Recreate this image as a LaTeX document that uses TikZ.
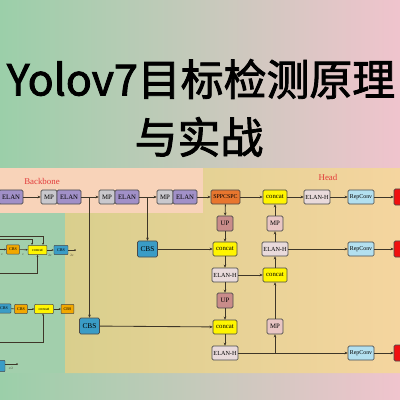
\documentclass[tikz,border=0pt]{standalone}
\usepackage{fontspec}
\setmainfont{Liberation Serif}
\newfontfamily\cjk[FakeBold=2]{Noto Sans CJK SC}
\usetikzlibrary{arrows.meta}
\definecolor{bgl}{HTML}{9BCFA9}
\definecolor{bgm}{HTML}{C9C9B8}
\definecolor{bgr}{HTML}{F0C4CD}
\definecolor{peach}{HTML}{F8D3B9}
\definecolor{headl}{HTML}{D9CF8D}
\definecolor{headr}{HTML}{F5D59F}
\definecolor{greenp}{HTML}{A2CFAC}
\definecolor{elanc}{HTML}{A190C8}
\definecolor{mpc}{HTML}{C9C8CD}
\definecolor{sppc}{HTML}{E8762E}
\definecolor{upc}{HTML}{C98C8A}
\definecolor{catc}{HTML}{FFF500}
\definecolor{elanhc}{HTML}{E9DADB}
\definecolor{mphc}{HTML}{E9C6C4}
\definecolor{repc}{HTML}{B3E0F0}
\definecolor{redc}{HTML}{F01010}
\definecolor{cbsc}{HTML}{3A9CC6}
\definecolor{cbsoc}{HTML}{F2A800}
\definecolor{boxline}{HTML}{4A4A4A}
\definecolor{linec}{HTML}{3E3628}
\definecolor{labred}{HTML}{E23A3A}
\begin{document}
\begin{tikzpicture}[x=0.025cm,y=-0.025cm,
  basebox/.style={draw=boxline, line width=0.5pt, rounded corners=0.9pt, inner sep=0pt,
    minimum height=0.35cm, font=\fontsize{4.8}{4.8}\selectfont},
  elanbox/.style={basebox, fill=elanc, minimum width=0.6cm},
  mpbox/.style={basebox, fill=mpc, minimum width=0.4cm},
  sppbox/.style={basebox, fill=sppc, minimum width=0.725cm, font=\fontsize{4.2}{4.2}\selectfont},
  upbox/.style={basebox, fill=upc, minimum width=0.4cm, minimum height=0.375cm},
  mphbox/.style={basebox, fill=mphc, minimum width=0.4cm, minimum height=0.375cm},
  catbox/.style={basebox, fill=catc, minimum width=0.6cm},
  elanhbox/.style={basebox, fill=elanhc, minimum width=0.65cm, font=\fontsize{4.4}{4.4}\selectfont},
  repbox/.style={basebox, fill=repc, minimum width=0.65cm, font=\fontsize{4.2}{4.2}\selectfont},
  redbox/.style={basebox, fill=redc, minimum width=0.3cm, minimum height=0.4cm},
  cbsbox/.style={basebox, fill=cbsc, minimum width=0.5cm, minimum height=0.4cm, font=\fontsize{5.2}{5.2}\selectfont},
  smallbox/.style={draw=boxline, line width=0.35pt, rounded corners=0.6pt, inner sep=0pt,
    minimum height=0.23cm, font=\fontsize{2.9}{2.9}\selectfont},
  cbsobox/.style={smallbox, fill=cbsoc, minimum width=0.32cm},
  cbssbox/.style={smallbox, fill=cbsc, minimum width=0.35cm},
  catsbox/.style={smallbox, fill=catc, minimum width=0.47cm},
  arr/.style={draw=linec, line width=0.6pt, -{Stealth[length=2.2pt,width=2pt]}},
  ln/.style={draw=linec, line width=0.6pt},
  sarr/.style={draw=linec, line width=0.4pt, -{Stealth[length=1.5pt,width=1.3pt]}},
  sln/.style={draw=linec, line width=0.4pt},
  tiny/.style={font=\fontsize{2.4}{2.4}\selectfont, text=linec, inner sep=0pt}
]
\useasboundingbox (0,0) rectangle (400,400);
\clip (0,0) rectangle (400,400);
% background
\shade[left color=bgl, middle color=bgm, right color=bgr] (0,0) rectangle (400,400);
% title
\node[font=\cjk\fontsize{30.5}{30.5}\selectfont, inner sep=0pt] (t1) at (201,79) {Yolov7目标检测原理};
\node[font=\cjk\fontsize{30.5}{30.5}\selectfont, inner sep=0pt] (t2) at (199,137) {与实战};
% panels
\fill[peach] (0,168) rectangle (203,213);
\shade[left color=headl, right color=headr] (65,213) -- (203,213) -- (203,168) -- (400,168) -- (400,373) -- (65,373) -- cycle;
\fill[greenp] (0,213) rectangle (65,373);
\node[text=labred, font=\fontsize{6.3}{6.3}\selectfont, inner sep=0pt] (bb) at (42,181) {Backbone};
\node[text=labred, font=\fontsize{6.3}{6.3}\selectfont, inner sep=0pt] (hd) at (328,177) {Head};
% backbone row
\node[elanbox] (e0) at (11,197) {ELAN};
\node[mpbox] (m1) at (49,197) {MP};
\node[elanbox] (e1) at (69,197) {ELAN};
\node[mpbox] (m2) at (107,197) {MP};
\node[elanbox] (e2) at (127,197) {ELAN};
\node[mpbox] (m3) at (165,197) {MP};
\node[elanbox] (e3) at (185,197) {ELAN};
\node[sppbox] (spp) at (225.5,197) {SPPCSPC};
\node[catbox] (ct) at (275,197) {concat};
\node[elanhbox] (eht) at (317,197) {ELAN-H};
\node[repbox] (rt) at (361,197) {RepConv};
\node[redbox] (xt) at (400,197) {};
\node[cbsbox] (c1) at (89.5,326) {CBS};
\node[cbsbox] (c2) at (147.5,249) {CBS};
% head
\node[upbox] (u1) at (225,223.5) {UP};
\node[catbox] (cm) at (225,249) {concat};
\node[elanhbox] (eh1) at (225,275) {ELAN-H};
\node[upbox] (u2) at (225,300.5) {UP};
\node[catbox] (cb) at (225,327) {concat};
\node[elanhbox] (eh2) at (225,353) {ELAN-H};
\node[mphbox] (mr1) at (275,223.5) {MP};
\node[elanhbox] (ehr) at (275,249) {ELAN-H};
\node[catbox] (cr) at (275,275) {concat};
\node[mphbox] (mr2) at (275,326.5) {MP};
\node[repbox] (rm) at (361,249) {RepConv};
\node[redbox] (xm) at (400,249) {};
\node[repbox] (rb) at (361,353) {RepConv};
\node[redbox] (xb) at (400,353) {};
% backbone connectors
\draw[arr] (e0) -- (m1);
\draw[arr] (e1) -- (m2);
\draw[arr] (e2) -- (m3);
\draw[arr] (e3) -- (spp);
\draw[arr] (c1 |- e1.east) -- (c1);
\draw[arr] (c2 |- e2.east) -- (c2);
\draw[arr] (c2) -- (cm);
\draw[arr] (c1) -- (cb);
% head connectors
\draw[arr] (spp) -- (ct);
\draw[arr] (ct) -- (eht);
\draw[arr] (eht) -- (rt);
\draw[arr] (rt) -- (xt);
\draw[arr] (spp) -- (u1);
\draw[arr] (u1) -- (cm);
\draw[arr] (cm) -- (eh1);
\draw[arr] (eh1) -- (cr);
\draw[arr] (eh1) -- (u2);
\draw[arr] (u2) -- (cb);
\draw[arr] (cb) -- (eh2);
\draw[arr] (eh2) -- (rb);
\draw[arr] (rb) -- (xb);
\draw[arr] (mr2 |- eh2.east) -- (mr2);
\draw[arr] (mr2) -- (cr);
\draw[arr] (cr) -- (ehr);
\draw[arr] (ehr) -- (mr1);
\draw[arr] (mr1) -- (ct);
\draw[arr] (ehr) -- (rm);
\draw[arr] (rm) -- (xm);
% left panel, module A
\node[cbsobox] (a1) at (13,249.5) {CBS};
\node[catsbox] (ac) at (37.5,250) {concat};
\node[cbssbox] (a2) at (61,250) {CBS};
\coordinate (a0) at (0,249.5);
\coordinate (ad) at (75,250);
\draw[sarr] (a0) -- (a1);
\draw[sarr] (a1) -- (ac);
\draw[sarr] (ac) -- (a2);
\draw[sln] (a2) -- (ad);
\fill[linec] (ad) circle (1);
\coordinate (at1) at (0,236);
\coordinate (at2) at (0,239.5);
\coordinate (ab) at (0,273);
\draw[sarr] (at1) -- (43,236) -- (43,245);
\draw[sarr] (at2) -- (32,239.5) -- (32,245);
\draw[sarr] (ab) -- (37.5,273) -- (ac.south);
\node[tiny] (la1) at (2,255) {c};
\node[tiny] (la2) at (23,255) {c};
\node[tiny] (la3) at (50,255) {2c};
\node[tiny] (la4) at (72,255) {2c};
% module B
\node[cbssbox] (b0) at (4,308.5) {CBS};
\node[cbsobox] (b1) at (21,309) {CBS};
\node[catsbox] (bc) at (44,309) {concat};
\node[cbsobox] (b2) at (67.5,309) {CBS};
\draw[sln] (b0) -- (b1);
\draw[sarr] (b1) -- (bc);
\draw[sarr] (bc) -- (b2);
\coordinate (bb0) at (0,342);
\draw[sarr] (bb0) -- (43,342) -- (43,313.6);
% module C
\node[cbssbox, minimum width=0.25cm, minimum height=0.28cm] (c0) at (0,366) {};
\coordinate (cd) at (17,364);
\draw[sln] (c0.east |- cd) -- (cd);
\fill[linec] (cd) circle (1);
\node[tiny] (lc) at (11,368.5) {c/2};
\end{tikzpicture}
\end{document}
